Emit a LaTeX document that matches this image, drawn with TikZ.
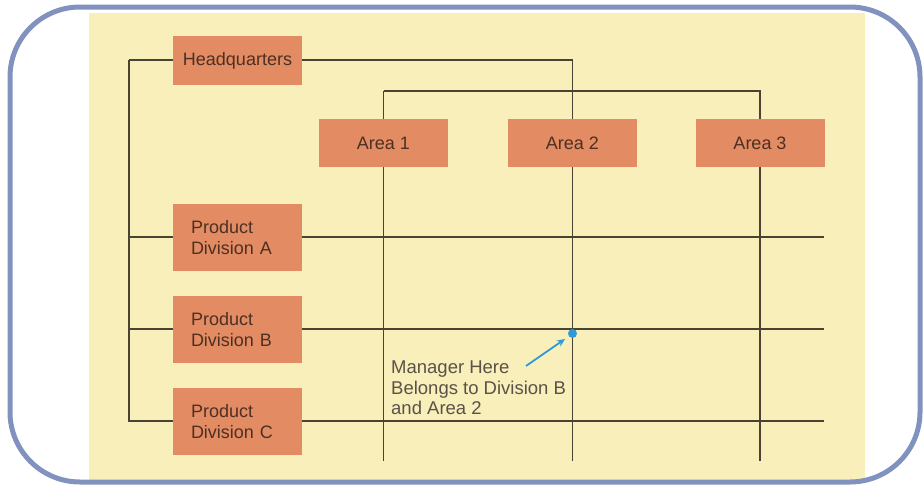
\documentclass[tikz,border=0pt]{standalone}
\usepackage{fontspec}
\setmainfont{Liberation Sans}
\usetikzlibrary{arrows.meta}
\definecolor{frameblue}{HTML}{8292BE}
\definecolor{paper}{HTML}{F8EFBA}
\definecolor{boxfill}{HTML}{E38B62}
\definecolor{boxtext}{HTML}{4C3024}
\definecolor{linecol}{HTML}{4A4232}
\definecolor{pointer}{HTML}{2E9AD8}
\definecolor{notetext}{HTML}{5A5248}
\tikzset{
  orgbox/.style={draw=none, fill=boxfill, text=boxtext, font=\fontsize{18}{21}\selectfont, inner sep=0pt, anchor=center},
  areabox/.style={orgbox, minimum width=129pt, minimum height=48pt},
  divbox/.style={orgbox, minimum height=67pt, text width=93pt, inner xsep=18pt, align=left},
  orgline/.style={draw=linecol, line width=1.1pt},
  pointerline/.style={draw=pointer, line width=1.8pt, -{Stealth[length=8pt,width=7pt]}},
}
\begin{document}
\begin{tikzpicture}[x=1pt,y=-1pt]
\useasboundingbox (0,0) rectangle (923,485);
\fill[paper] (89,13) rectangle (865,481);
\draw[frameblue, line width=5pt, rounded corners=70pt] (10,7) rectangle (920,482);

% coordinates for free ends
\coordinate (topleft) at (129,60);
\coordinate (botleft) at (129,421);
\coordinate (jA) at (129,237);
\coordinate (jB) at (129,329);
\coordinate (endA) at (824,237);
\coordinate (endB) at (824,329);
\coordinate (endC) at (824,421);
\coordinate (bot1) at (383.5,461);
\coordinate (bot2) at (572.5,461);
\coordinate (bot3) at (760,461);
\coordinate (abar) at (383.5,91);

% lines (behind boxes)
\path[orgline] (topleft) -- (botleft) -- (endC);
\path[orgline] (jA) -- (endA);
\path[orgline] (jB) -- (endB);
\path[orgline] (topleft) -- (572.5,60) -- (bot2);
\path[orgline] (abar) -- (760,91) -- (bot3);
\path[orgline] (abar) -- (bot1);

% boxes
\node[orgbox, minimum width=129pt, minimum height=49pt] (hq) at (237.5,60.5) {Headquarters};
\node[areabox] (a1) at (383.5,143) {Area 1};
\node[areabox] (a2) at (572.5,143) {Area 2};
\node[areabox] (a3) at (760,143) {Area 3};
\node[divbox] (dA) at (237.5,237.5) {Product\\Division A};
\node[divbox] (dB) at (237.5,329.5) {Product\\Division B};
\node[divbox] (dC) at (237.5,421.5) {Product\\Division C};

% manager point
\fill[pointer] (572.5,333.5) circle (4.5pt) node (mgr) {};
\node[anchor=north west, align=left, inner sep=0pt, text=notetext, font=\fontsize{18.5}{20.5}\selectfont] (note) at (391,361) {Manager Here\\Belongs to Division B\\and Area 2};
\coordinate (arrstart) at (526,366);
\coordinate (arrend) at (565,339);
\draw[pointerline] (arrstart) -- (arrend);
\end{tikzpicture}
\end{document}
